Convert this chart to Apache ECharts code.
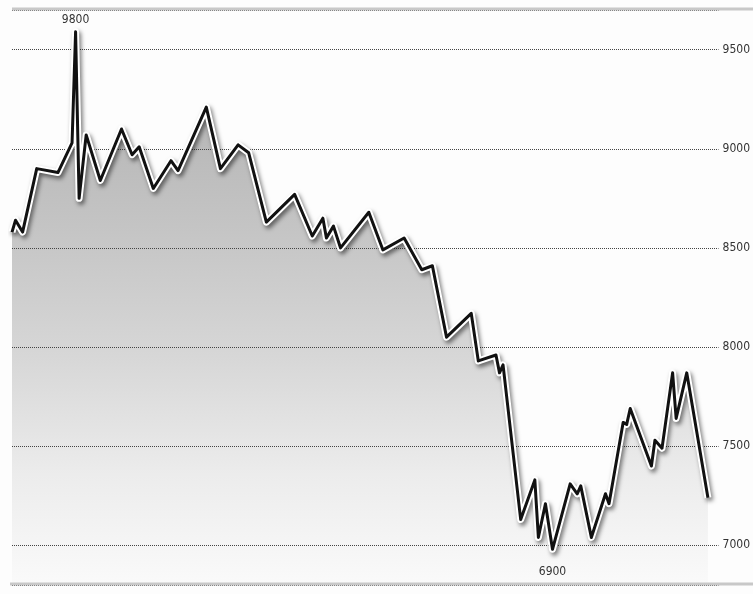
<!DOCTYPE html>
<html>
<head>
<meta charset="utf-8">
<script src="https://cdn.jsdelivr.net/npm/echarts@6/dist/echarts.min.js"></script>
<style>
html,body{margin:0;padding:0;background:#fdfdfd;}
#c{width:753px;height:594px;}
</style>
</head>
<body>
<div id="c"></div>
<script>
// Trading-day index (x) and price (y)
const days = [0,1,3,7,13,17,18,19,21,25,31,34,36,40,45,47,55,59,64,67,72,80,85,88,89,91,93,101,105,111,116,119,123,130,132,137,138,139,144,148,149,151,153,158,160,161,164,168,169,173,174,175,181,182,184,187,188,191,197];
const prices = [8580,8640,8580,8900,8880,9030,9590,8750,9070,8840,9100,8970,9010,8800,8940,8890,9210,8900,9020,8980,8630,8770,8560,8650,8550,8610,8500,8680,8490,8550,8390,8410,8050,8170,7930,7960,7870,7910,7130,7330,7040,7210,6980,7310,7260,7300,7040,7260,7210,7620,7610,7690,7400,7530,7490,7870,7640,7870,7240];
const yTicks = [7000,7500,8000,8500,9000,9500];
const extremeLabels = ['9800','6900'];

const pts = days.map((d,i)=>[d,prices[i]]);
const chart = echarts.init(document.getElementById('c'));
const FONT = '"Liberation Sans Narrow","DejaVu Sans Condensed","Liberation Sans",sans-serif';

chart.setOption({
  animation:false,
  backgroundColor:'#fdfdfd',
  grid:{left:12,right:33,top:10,bottom:9},
  xAxis:{type:'value',min:0,max:200,show:false},
  yAxis:{
    type:'value',position:'right',min:6800,max:9700,splitNumber:6,z:5,
    axisLine:{show:false},axisTick:{show:false},
    axisLabel:{
      margin:4,color:'#333',fontFamily:'"DejaVu Sans Condensed","DejaVu Sans",sans-serif',fontSize:12,
      formatter:v=>yTicks.indexOf(v)>=0?String(v):''
    },
    splitLine:{show:true,lineStyle:{type:'dotted',color:'#444',width:1}}
  },
  series:[
    {
      type:'line',data:pts,symbol:'none',z:1,
      lineStyle:{width:0,opacity:0},
      areaStyle:{
        origin:'start',opacity:1,
        color:new echarts.graphic.LinearGradient(0,0,0,1,[
          {offset:0,color:'#acacac'},
          {offset:0.35,color:'#c4c4c4'},
          {offset:0.6,color:'#d8d8d8'},
          {offset:0.8,color:'#ececec'},
          {offset:1,color:'#fafafa'}
        ])
      }
    },
    {
      type:'line',data:pts,symbol:'none',z:6,
      lineStyle:{color:'#ffffff',width:7,join:'round',
        shadowColor:'rgba(0,0,0,0.5)',shadowBlur:4,shadowOffsetX:2,shadowOffsetY:3}
    },
    {
      type:'line',data:pts,symbol:'none',z:7,
      lineStyle:{color:'#111',width:3,join:'round'},
      markPoint:{
        symbol:'circle',symbolSize:0,
        data:[
          {type:'max',valueDim:'y',label:{position:'top',distance:6,formatter:()=>extremeLabels[0]}},
          {type:'min',valueDim:'y',label:{position:'bottom',distance:17,formatter:()=>extremeLabels[1]}}
        ],
        label:{color:'#333',fontFamily:FONT,fontSize:12}
      }
    }
  ],
  graphic:[
    {type:'rect',shape:{x:0,y:0,width:753,height:8},style:{fill:'#fdfdfd'},z:9},
    {type:'line',shape:{x1:12,y1:9,x2:753,y2:9},style:{stroke:'#c8c8c8',lineWidth:3},z:10},
    {type:'line',shape:{x1:10,y1:584,x2:753,y2:584},style:{stroke:'#c8c8c8',lineWidth:3},z:10}
  ]
});
</script>
</body>
</html>
